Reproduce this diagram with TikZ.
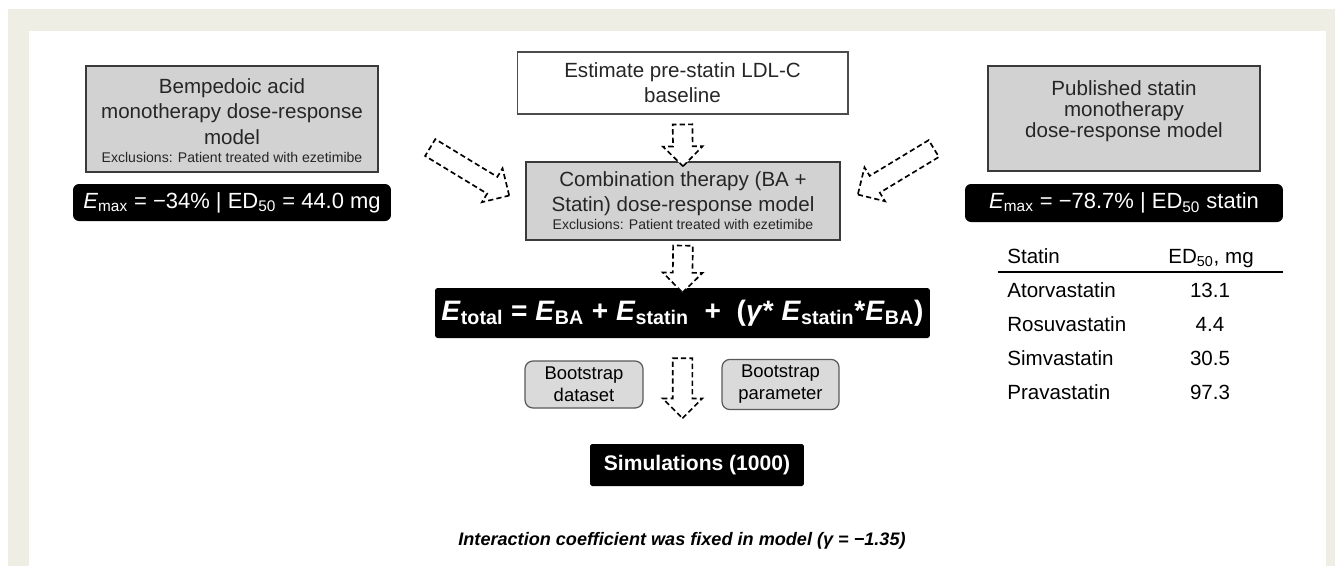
\documentclass[tikz,border=0pt]{standalone}
\usepackage{fontspec}
\setmainfont{Liberation Sans}
\usetikzlibrary{calc,shapes.arrows}

\definecolor{pagebg}{HTML}{EEEEE4}
\definecolor{boxgray}{HTML}{D2D2D2}
\definecolor{pillgray}{HTML}{DADADA}
\definecolor{edgegray}{HTML}{3A3A3A}

\newcommand{\gam}{γ}
% dashed hollow arrow between two named points
\newcommand{\hollowflow}[2]{%
  \path let \p1=($(#2)-(#1)$), \n1={atan2(\y1,\x1)}, \n2={veclen(\x1,\y1)} in
    node[flow, minimum height=\n2, rotate=\n1] at ($(#1)!0.5!(#2)$) {};}

\begin{document}
\begin{tikzpicture}[x=0.02cm,y=-0.02cm,
    flow/.style={single arrow, single arrow head extend=0.2cm,
      single arrow tip angle=90, inner sep=0pt, inner ysep=0.18cm,
      minimum width=0pt, outer sep=0pt, fill=white, draw=black,
      line width=0.95pt, dash pattern=on 3pt off 1.8pt}]

  \useasboundingbox (0,0) rectangle (1335,566);
  \fill[pagebg] (8,9) rectangle (1335,566);
  \fill[white] (29,31) rectangle (1326,566);

  % model boxes
  \begin{scope}[every node/.style={fill=boxgray,draw=edgegray,line width=1.1pt,
      align=center,text=black!85,font=\fontsize{11.7}{14.2}\selectfont}]
    \node[minimum width=5.84cm,minimum height=2.12cm,font=\fontsize{11.7}{14.5}\selectfont] (bamono) at (232,119)
      {\rule{0pt}{8pt}\\[-12pt]Bempedoic acid\\monotherapy dose-response\\model\\[-4pt]
       {\fontsize{8}{9}\selectfont Exclusions: Patient treated with ezetimibe}};
    \node[minimum width=6.28cm,minimum height=1.56cm,line width=0.8pt] (combo) at (683,201)
      {Combination therapy (BA +\\Statin) dose-response model\\[-4pt]
       {\fontsize{8}{9}\selectfont Exclusions: Patient treated with ezetimibe}};
    \node[minimum width=5.44cm,minimum height=2.1cm,font=\fontsize{11.7}{11.8}\selectfont] (statmono) at (1124,118.5)
      {Published statin\\monotherapy\\dose-response model\\[-1pt]~};
    \node[fill=white,draw=black!70,line width=0.6pt,minimum width=6.62cm,minimum height=1.24cm] (prestatin) at (682.5,83)
      {Estimate pre-statin LDL-C\\baseline};
  \end{scope}

  % black result boxes
  \begin{scope}[every node/.style={fill=black,text=white,inner sep=0pt}]
    \node[rounded corners=3.4pt,minimum width=6.36cm,minimum height=0.74cm,
      font=\fontsize{12.5}{15}\selectfont] (baemax) at (232,202.5)
      {\textit{E}\textsubscript{max} = −34\% | ED\textsubscript{50} = 44.0 mg};
    \node[rounded corners=3.4pt,minimum width=6.36cm,minimum height=0.76cm,
      font=\fontsize{12.5}{15}\selectfont] (statemax) at (1124,203)
      {\textit{E}\textsubscript{max} = −78.7\% | ED\textsubscript{50} statin};
    \node[rounded corners=1.5pt,minimum width=9.9cm,minimum height=1.0cm,
      font=\fontsize{16}{18}\selectfont\bfseries] (etotal) at (682.5,313)
      {\textit{E}\textsubscript{total} = \textit{E}\textsubscript{BA} + \textit{E}\textsubscript{statin}\ \ +\ \ (\textit{\gam}* \textit{E}\textsubscript{statin}*\textit{E}\textsubscript{BA})};
    \node[rounded corners=1pt,minimum width=4.28cm,minimum height=0.84cm,
      font=\fontsize{12}{14}\selectfont\bfseries] (sims) at (697,465)
      {Simulations (1000)};
  \end{scope}

  % bootstrap pills
  \begin{scope}[every node/.style={fill=pillgray,draw=black!65,line width=0.7pt,
      rounded corners=4.5pt,align=center,minimum height=0.94cm,
      font=\fontsize{10.5}{12.5}\selectfont}]
    \node[minimum width=2.36cm] (bsdata) at (584,384.5) {Bootstrap\\dataset};
    \node[minimum width=2.34cm] (bsparam) at (780.5,384.5) {Bootstrap\\parameter};
  \end{scope}

  % statin table
  \begin{scope}[every node/.style={inner sep=0pt,font=\fontsize{11.7}{14}\selectfont}]
    \node[anchor=base west] (thname) at (1007,263) {Statin};
    \node[anchor=base] (thdose) at (1211,263) {ED\textsubscript{50}, mg};
    \node[anchor=base west] (ator) at (1007,297) {Atorvastatin};
    \node[anchor=base west] (rosu) at (1007,331) {Rosuvastatin};
    \node[anchor=base west] (simv) at (1007,365) {Simvastatin};
    \node[anchor=base west] (prav) at (1007,399) {Pravastatin};
    \node[anchor=base] (atorval) at (1210,297) {13.1};
    \node[anchor=base] (rosuval) at (1210,331) {4.4};
    \node[anchor=base] (simvval) at (1210,365) {30.5};
    \node[anchor=base] (pravval) at (1210,399) {97.3};
  \end{scope}
  \draw[line width=0.8pt] (998,272) -- (1283,272);

  \node[font=\fontsize{10.3}{12}\selectfont\bfseries\itshape] (note) at (682,541)
    {Interaction coefficient was fixed in model (\gam\ = −1.35)};

  % arrows
  \coordinate (bain)   at (426,145);
  \coordinate (baout)  at (505,193);
  \coordinate (statin) at (938,146);
  \coordinate (statout) at (862,192);
  \coordinate (pretop) at ($(prestatin.south)+(0,5)$);
  \coordinate (combot) at (combo.south);
  \coordinate (etbot)  at ($(etotal.south)+(0,15)$);
  \coordinate (simtop) at ($(etotal.south)+(0,75)$);

  \hollowflow{bain}{baout}
  \hollowflow{statin}{statout}
  \hollowflow{pretop}{combo.north}
  \hollowflow{combot}{etotal.north}
  \hollowflow{etbot}{simtop}

\end{tikzpicture}
\end{document}
